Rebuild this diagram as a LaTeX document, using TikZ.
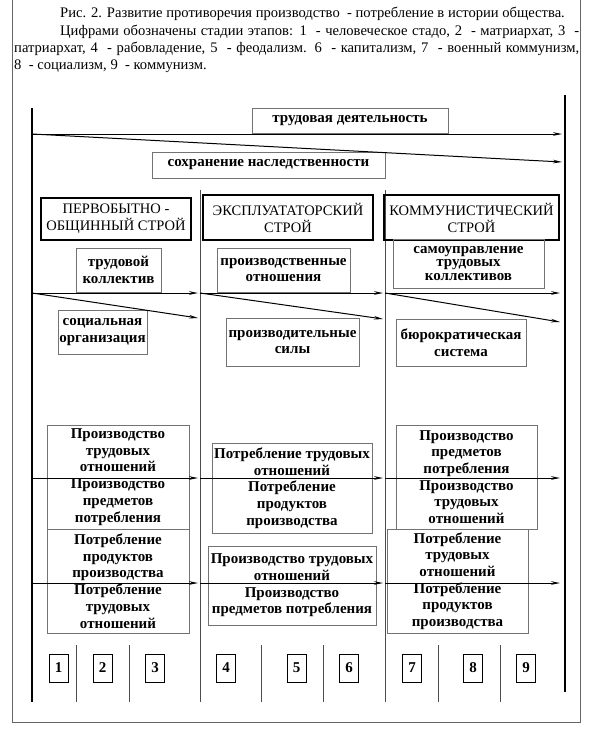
\documentclass[tikz,border=0pt]{standalone}
\usepackage{fontspec}
\setmainfont{Liberation Serif}
\usetikzlibrary{arrows.meta}

\begin{document}
\begin{tikzpicture}
[x=1pt,y=-1pt,>={Stealth[length=9pt,width=3.6pt]},
 every node/.style={inner sep=0pt,font=\fontsize{14.6}{17}\selectfont},
 box/.style={draw=black!55,line width=0.7pt,align=center,font=\fontsize{15}{16.7}\selectfont\bfseries},
 head/.style={draw,line width=1.2pt,align=center,font=\fontsize{14.5}{17}\selectfont},
 numbox/.style={draw,line width=0.8pt,minimum width=19pt,minimum height=28pt,font=\fontsize{15}{16}\selectfont\bfseries},
 arr/.style={->,line width=1pt},
 axisline/.style={line width=2.6pt},
 divider/.style={draw=black!70,line width=0.8pt},
 frameline/.style={draw=black!60,line width=1pt}]

\useasboundingbox (0,0) rectangle (591,736);

\draw[frameline] (12,-2) -- (12,722) -- (580,722) -- (580,-2);

\node[anchor=base west] (cap1) at (60,17.5) {Рис. 2. Развитие противоречия производство\ \ - потребление в истории общества.};
\node[anchor=base west] (cap2) at (60,35) {\makebox[519pt][s]{Цифрами обозначены стадии этапов: 1\ \ - человеческое стадо, 2\ \ - матриархат, 3\ \ -}};
\node[anchor=base west] (cap3) at (14,52.5) {\makebox[565pt][s]{патриархат, 4\ \ - рабовладение, 5\ \ - феодализм. 6\ \ - капитализм, 7\ \ - военный коммунизм,}};
\node[anchor=base west] (cap4) at (14,69.5) {8\ \ - социализм, 9\ \ - коммунизм.};

\draw[axisline] (32,108) -- (32,702);
\draw[axisline] (565,95) -- (565,692);
\draw[divider] (200,190) -- (200,702);
\draw[divider] (385,190) -- (385,702);
\foreach \x in {76,129,261,323,438,500}
  \draw[divider] (\x,645) -- (\x,702);

\node[box,minimum width=196pt,minimum height=25pt] (trud) at (350,120.5) {трудовая деятельность};
\node[box,minimum width=233pt,minimum height=26pt] (sohr) at (268.5,165) {сохранение наследственности};

\node[head,minimum width=150pt,minimum height=42pt] (perv) at (116,219) {ПЕРВОБЫТНО -\\ОБЩИННЫЙ СТРОЙ};
\node[head,minimum width=170pt,minimum height=45pt] (ekspl) at (288,217.5) {ЭКСПЛУАТАТОРСКИЙ\\СТРОЙ};
\node[head,minimum width=175pt,minimum height=45pt] (komm) at (471.5,217.5) {КОММУНИСТИЧЕСКИЙ\\СТРОЙ};

\node[box,minimum width=85pt,minimum height=44pt] (trkol) at (118.5,270) {трудовой\\коллектив};
\node[box,minimum width=133pt,minimum height=44pt] (prot) at (283.5,270) {производственные\\отношения};
\node[box,minimum width=151pt,minimum height=49pt,font=\fontsize{15}{13.5}\selectfont\bfseries] (samo) at (468.5,263.5) {самоуправление\\трудовых\\коллективов};
\node[box,minimum width=89pt,minimum height=44pt] (soc) at (102.5,332) {социальная\\организация};
\node[box,minimum width=133pt,minimum height=48pt] (prsil) at (292.5,342) {производительные\\силы};
\node[box,minimum width=130pt,minimum height=47pt] (bur) at (461,342.5) {бюрократическая\\система};

\node[box,minimum width=142pt,minimum height=104pt] (la) at (118,477) {Производство\\трудовых\\отношений\\Производство\\предметов\\потребления};
\node[box,minimum width=142pt,minimum height=104pt] (lb) at (118,581) {Потребление\\продуктов\\производства\\Потребление\\трудовых\\отношений};
\node[box,minimum width=160pt,minimum height=90pt] (ma) at (292,488) {Потребление трудовых\\отношений\\Потребление\\продуктов\\производства};
\node[box,minimum width=168pt,minimum height=79pt] (mb) at (292,585.5) {Производство трудовых\\отношений\\Производство\\предметов потребления};
\node[box,minimum width=141pt,minimum height=104pt] (ra) at (466.5,477) {Производство\\предметов\\потребления\\Производство\\трудовых\\отношений};
\node[box,minimum width=141pt,minimum height=104pt] (rb) at (457.5,581) {Потребление\\трудовых\\отношений\\Потребление\\продуктов\\производства};

\coordinate (o) at (32,134);
\coordinate (e1) at (562,134);
\coordinate (e2) at (562,162);
\draw[arr] (o) -- (e1);
\draw[arr] (o) -- (e2);

\foreach \xa/\xb/\yb [count=\i] in {32/198/318,200/383/319,385/560/322}{
  \coordinate (s\i) at (\xa,293);
  \coordinate (h\i) at (\xb,293);
  \coordinate (d\i) at (\xb,\yb);
  \draw[arr] (s\i) -- (h\i);
  \draw[arr] (s\i) -- (d\i);
}

\foreach \y [count=\j] in {478,583}
  \foreach \xa/\xb [count=\i] in {32/198,200/383,385/560}{
    \coordinate (u\j\i) at (\xa,\y);
    \coordinate (v\j\i) at (\xb,\y);
    \draw[arr] (u\j\i) -- (v\j\i);
  }

\foreach \x/\k in {58.5/1,102.5/2,155/3,226/4,296.5/5,349/6,412/7,473/8,526/9}
  \node[numbox] (n\k) at (\x,668) {\k};

\end{tikzpicture}
\end{document}
